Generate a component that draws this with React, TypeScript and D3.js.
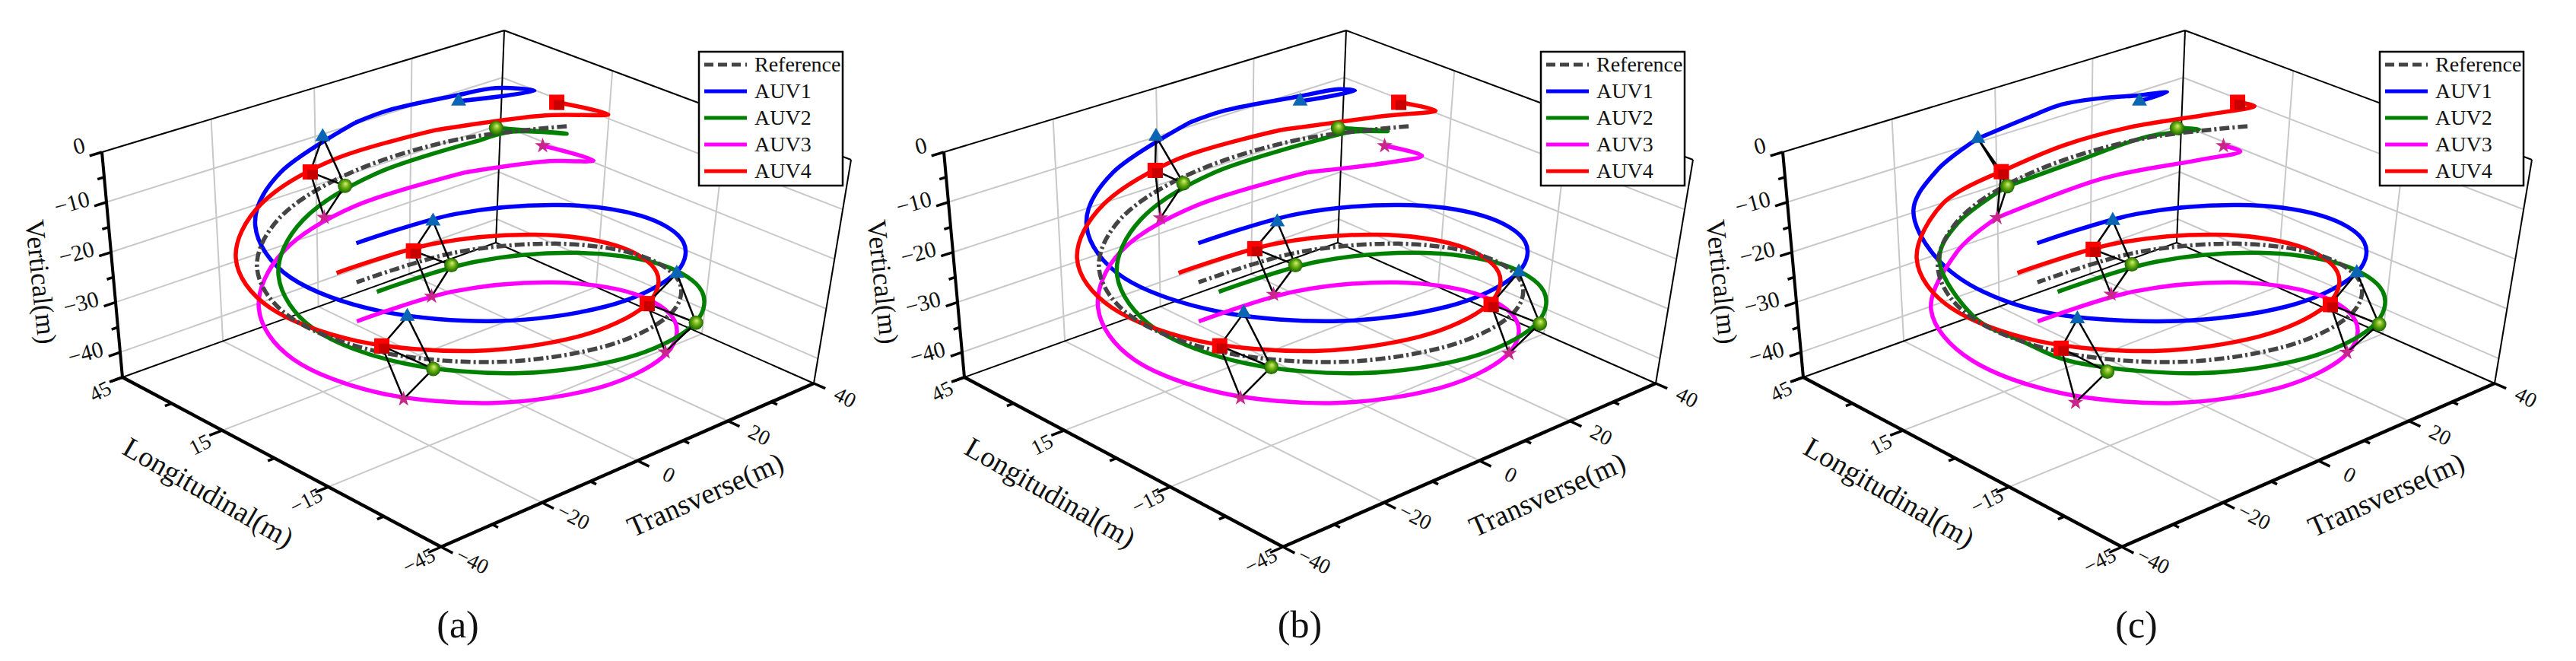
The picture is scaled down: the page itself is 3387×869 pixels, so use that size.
import * as d3 from 'd3';

type P3 = number[];

// values are [longitudinal, transverse, vertical] in metres
const reference: P3[] = [[18.4,33.4,-10.5],[30.2,19,-12.2],[35,1.2,-14.3],[30.9,-16.4,-16.2],[18.5,-29.7,-18.1],[1.2,-35,-20],[-16.4,-30.9,-21.9],[-29.7,-18.5,-23.9],[-35,-1.2,-25.8],[-30.9,16.4,-27.7],[-18.5,29.7,-29.6],[-1.2,35,-31.5],[16.4,30.9,-33.4],[29.7,18.5,-35.3],[35,1.2,-37.2]];

const auv1Tail: P3[] = [[-29.7,-18.5,-15.9],[-35,-1.2,-17.8],[-30.9,16.4,-19.7],[-18.5,29.7,-21.6],[-1.2,35,-23.5],[16.4,30.9,-25.4],[29.7,18.5,-27.3],[35,1.2,-29.2]];
const auv2Tail: P3[] = [[-35.7,-18.5,-23.9],[-41,-1.2,-25.8],[-36.9,16.4,-27.7],[-24.5,29.7,-29.6],[-7.2,35,-31.5],[10.4,30.9,-33.4],[23.7,18.5,-35.3],[29,1.2,-37.2]];
const auv3Tail: P3[] = [[-16.4,-30.9,-29.9],[-29.7,-18.5,-31.9],[-35,-1.2,-33.8],[-30.9,16.4,-35.7],[-18.5,29.7,-37.6],[-1.2,35,-39.5],[16.4,30.9,-41.4],[29.7,18.5,-43.3],[35,1.2,-45.2]];
const auv4Tail: P3[] = [[-10.4,-30.9,-21.9],[-23.7,-18.5,-23.9],[-29,-1.2,-25.8],[-24.9,16.4,-27.7],[-12.5,29.7,-29.6],[4.8,35,-31.5],[22.4,30.9,-33.4],[35.7,18.5,-35.3],[41,1.2,-37.2]];

const auv1A: P3[] = [[26,15.7,-2],[20.6,27.6,-2],[26.5,23.9,-2],[28.5,17.1,-2],[32.9,6.3,-3],[35,1.2,-4.5],[30.9,-16.4,-7.5],[18.5,-29.7,-9.6],[1.2,-35,-12],[-16.4,-30.9,-13.9],...auv1Tail];
const auv2A: P3[] = [[27.6,25.2,-11],[16.5,31.9,-11],[24.2,26,-11],[24.2,19,-10.6],[29,1.2,-13],[24.9,-16.4,-15.2],[12.5,-29.7,-17.5],[-4.8,-35,-20],[-22.4,-30.9,-21.9],...auv2Tail];
const auv3A: P3[] = [[28.4,36.5,-18.5],[16.3,38.3,-18.5],[21.9,32.4,-18.5],[30,20.8,-19.5],[35,1.2,-21.5],[30.9,-16.4,-23.5],[18.5,-29.7,-26],[1.2,-35,-28],...auv3Tail];
const auv4A: P3[] = [[27.1,38.1,-9.5],[15.9,40.6,-9.5],[24.4,33.4,-10],[36.2,19,-12],[41,1.2,-13.8],[36.9,-16.4,-15.8],[24.5,-29.7,-18.1],[7.2,-35,-20],...auv4Tail];

const auv1B: P3[] = [[26,15.6,-2],[23.3,25.1,-2],[25.9,23.7,-2],[28,17,-2],[33.5,5.6,-3],[36,0.4,-4.5],[32,-17.5,-7.5],[19.5,-31,-9.6],[1.8,-36,-12],[-16.4,-31.3,-13.9],...auv1Tail];
const auv2B: P3[] = [[27.6,25.2,-11],[20.1,30.2,-11],[24.2,26,-11],[24.7,19,-10.6],[29.8,0.8,-13],[25.7,-16.6,-15.2],[13,-30,-17.5],[-4.6,-35,-20],[-22.4,-30.9,-21.9],...auv2Tail];
const auv3B: P3[] = [[28.4,36.5,-18.5],[19.8,38.1,-18.5],[22,32.5,-18.8],[30,20.8,-19.5],[35.2,0.8,-21.5],[31.4,-17,-23.5],[18.8,-30,-26],[1.2,-35.2,-28],...auv3Tail];
const auv4B: P3[] = [[27.1,38.1,-9.5],[19.2,40,-9.5],[24.4,33.1,-10],[35.5,19,-11.8],[40.2,1.2,-13.4],[36.4,-16.6,-15.6],[24.4,-29.9,-18.1],[7.2,-35,-20],...auv4Tail];

const auv1C: P3[] = [[26,15.7,-2],[26,21.5,-2],[28.3,17.3,-2],[31.7,12.4,-2],[36.1,7.1,-3],[37.1,1.5,-4],[36.9,-9.1,-5],[35.5,-18,-8],[29,-27,-11],[14,-33,-13],[-2,-35,-13.7],[-17,-31.5,-14.2],...auv1Tail];
const auv2C: P3[] = [[27.6,25.2,-11],[24.4,27.5,-11],[28,19,-11],[30.2,5.9,-12.5],[30.5,-7.9,-13.1],[27.6,-19.5,-15.5],[19,-29,-17.5],[1,-35,-19.5],[-10,-34,-20.7],[-22.4,-31.2,-21.9],...auv2Tail];
const auv3C: P3[] = [[28.4,36.5,-18.5],[24.1,36.9,-18.5],[26.1,29.4,-18.5],[33.2,14,-19.5],[36.4,-6,-22],[31.5,-17.5,-23.5],[19,-31,-26],[1.2,-35.5,-28],...auv3Tail];
const auv4C: P3[] = [[27.1,38.1,-9.5],[23.5,39,-9.5],[26,31,-9.5],[33.8,19.8,-11],[36.4,8,-11.7],[36.5,-4.9,-13],[36.5,-16.4,-15.5],[24.5,-29.7,-18.1],[7.2,-35,-20],...auv4Tail];

// formation snapshots: start, then four instants along the path
const mark1A: P3[] = [[26,15.7,-2],[35.4,-5.1,-5.5],[-20.2,-28.6,-14.5],[-29.7,18.5,-20.3],[31.5,15,-28.2]];
const mark2A: P3[] = [[27.6,25.2,-11],[29.5,-4.9,-13.7],[-26.6,-28.3,-22.5],[-35.7,18.5,-28.1],[26.3,15.3,-35.7]];
const mark3A: P3[] = [[28.4,36.5,-18.5],[35.5,-5,-22],[-20,-29,-30.5],[-29.5,18,-35.9],[31.5,15,-43.7]];
const mark4A: P3[] = [[27.1,38.1,-9.5],[39.5,-4.9,-14],[-13.8,-28.7,-22.5],[-23.2,18.5,-28.5],[37.5,15.3,-36.3]];

const mark1B: P3[] = [[26,15.6,-2],[36.4,-6.1,-5.4],[-18.8,-28.6,-14.3],[-29.7,18.5,-20],[31.1,15.2,-28.3]];
const mark2B: P3[] = [[27.6,25.2,-11],[30.5,-4.9,-13.5],[-25.6,-28.3,-22.5],[-36.2,18.5,-28.1],[25.7,15.3,-35.5]];
const mark3B: P3[] = [[28.4,36.5,-18.5],[36,-5.8,-22],[-19.1,-29.3,-30.5],[-30,18,-36],[31.5,15,-43.3]];
const mark4B: P3[] = [[27.1,38.1,-9.5],[38.6,-4.9,-13.4],[-13.3,-29.1,-22.5],[-23.7,18.5,-28.5],[37.7,15.3,-35.9]];

const mark1C: P3[] = [[26,15.7,-2],[36.9,-9.1,-5],[-20.2,-30.6,-14.2],[-29.7,18.3,-20.1],[31.7,14.9,-28.1]];
const mark2C: P3[] = [[27.6,25.2,-11],[30.5,-7.9,-13.1],[-26.6,-29.6,-22.5],[-36.3,18.5,-28.2],[26.3,15.2,-35.5]];
const mark3C: P3[] = [[28.4,36.5,-18.5],[36.4,-6,-22],[-20,-30.7,-30.5],[-29.7,18,-35.9],[31.9,15,-43.4]];
const mark4C: P3[] = [[27.1,38.1,-9.5],[36.5,-4.9,-13],[-13.7,-28.9,-22.9],[-23.8,18.5,-28.5],[37.7,15.2,-36]];

const lonTicks = [45, 30, 15, 0, -15, -30, -45];
const lonLabels = [45, 15, -15, -45];
const trTicks = [-40, -30, -20, -10, 0, 10, 20, 30, 40];
const trLabels = [-40, -20, 0, 20, 40];
const vertTicks = [0, -5, -10, -15, -20, -25, -30, -35, -40];
const vertLabels = [0, -10, -20, -30, -40];
const legendNames = ['Reference', 'AUV1', 'AUV2', 'AUV3', 'AUV4'];
const legendColors = ['#444444', '#0000ff', '#008000', '#ff00ff', '#ff0000'];

const SERIF = '"Liberation Serif", serif';
const GRID = '#c8c8c8';

const lonScale = d3.scaleLinear().domain([45, -45]).range([0, 1]);
const trScale = d3.scaleLinear().domain([-40, 40]).range([0, 1]);
const vertScale = d3.scaleLinear().domain([-45, 0]).range([0, 1]);

// unit square -> quad, corners in order (0,0) (1,0) (1,1) (0,1)
function quadMap(q: number[][]) {
  const [[x0, y0], [x1, y1], [x2, y2], [x3, y3]] = q;
  const dx1 = x1 - x2, dx2 = x3 - x2, sx = x0 - x1 + x2 - x3;
  const dy1 = y1 - y2, dy2 = y3 - y2, sy = y0 - y1 + y2 - y3;
  const den = dx1 * dy2 - dx2 * dy1;
  const g = (sx * dy2 - dx2 * sy) / den;
  const h = (dx1 * sy - sx * dy1) / den;
  const a = x1 - x0 + g * x1, b = x3 - x0 + h * x3;
  const d = y1 - y0 + g * y1, e = y3 - y0 + h * y3;
  return (u: number, v: number) => {
    const w = g * u + h * v + 1;
    return [(a * u + b * v + x0) / w, (d * u + e * v + y0) / w];
  };
}

const floorMap = quadMap([[161, 496], [580, 719], [1070, 504], [652, 319]]);
const topMap = quadMap([[134, 200], [588, 411], [1119, 210], [663, 40]]);

function project(lon: number, tr: number, vert: number): [number, number] {
  const u = lonScale(lon), v = trScale(tr), w = vertScale(vert);
  const f = floorMap(u, v), t = topMap(u, v);
  return [f[0] + (t[0] - f[0]) * w, f[1] + (t[1] - f[1]) * w];
}

// sharp start hooks need the centripetal curve, the even spiral looks rounder with the plain one
const hookLine = d3.line().curve(d3.curveCatmullRom.alpha(0.5));
const spiralLine = d3.line().curve(d3.curveCatmullRom.alpha(0));
const straight = d3.line();
const triangle = d3.symbol(d3.symbolTriangle, 170)();
const star = d3.symbol(d3.symbolStar, 130)();

function Seg({ a, b, stroke = '#000', width = 2 }: { a: P3; b: P3; stroke?: string; width?: number }) {
  return <path d={straight([project(a[0], a[1], a[2]), project(b[0], b[1], b[2])]) as string} stroke={stroke} strokeWidth={width} fill="none" />;
}

function Frame() {
  return (
    <g>
      <g>
        {[15, -15].map(l => <Seg key={`f${l}`} a={[l, -40, -45]} b={[l, 40, -45]} stroke={GRID} />)}
        {[-20, 0, 20].map(t => <Seg key={`g${t}`} a={[45, t, -45]} b={[-45, t, -45]} stroke={GRID} />)}
        {[-20, 0, 20].map(t => <Seg key={`v${t}`} a={[45, t, -45]} b={[45, t, 0]} stroke={GRID} />)}
        {[15, -15].map(l => <Seg key={`w${l}`} a={[l, 40, -45]} b={[l, 40, 0]} stroke={GRID} />)}
        {[-10, -20, -30, -40].map(z => <Seg key={`h${z}`} a={[45, -40, z]} b={[45, 40, z]} stroke={GRID} />)}
        {[-10, -20, -30, -40].map(z => <Seg key={`k${z}`} a={[45, 40, z]} b={[-45, 40, z]} stroke={GRID} />)}
      </g>
      <Seg a={[45, -40, -45]} b={[45, 40, -45]} />
      <Seg a={[45, 40, -45]} b={[-45, 40, -45]} />
      <Seg a={[45, 40, -45]} b={[45, 40, 0]} />
      <Seg a={[45, -40, 0]} b={[45, 40, 0]} />
      <Seg a={[45, 40, 0]} b={[-45, 40, 0]} />
      <Seg a={[-45, 40, -45]} b={[-45, 40, 0]} />
      <Seg a={[45, -40, -45]} b={[45, -40, 0]} width={4} />
      <Seg a={[45, -40, -45]} b={[-45, -40, -45]} width={4.5} />
      <Seg a={[-45, -40, -45]} b={[-45, 40, -45]} width={4.5} />
      {vertTicks.map(z => <Seg key={z} a={[45, -40, z]} b={[45, z % 10 === 0 ? -42.2 : -41.2, z]} width={3.5} />)}
      <Seg a={[45, -40, -45]} b={[45, -42.2, -45]} width={3.5} />
      {lonTicks.map(l => <Seg key={l} a={[l, -40, -45]} b={[l, l % 15 === 0 && l % 30 !== 0 ? -42.5 : -41.3, -45]} width={3.5} />)}
      {trTicks.map(t => <Seg key={t} a={[-45, t, -45]} b={[t % 20 === 0 ? -48 : -46.5, t, -45]} width={3.5} />)}
      {vertLabels.map(z => {
        const [x, y] = project(45, -40, z);
        return (
          <text key={z} transform={`translate(${x - 22},${y - (z === 0 ? 7 : 2)}) rotate(-15)`} textAnchor="end" dominantBaseline="middle" fontFamily={SERIF} fontSize={30} fill="#111">
            {z < 0 ? `\u2212${-z}` : z}
          </text>
        );
      })}
      {lonLabels.map(l => {
        const [x, y] = project(l, -40, -45);
        return (
          <text key={l} transform={`translate(${x - 28},${y + 21}) rotate(-27)`} textAnchor="middle" dominantBaseline="middle" fontFamily={SERIF} fontSize={28} fill="#111">
            {l < 0 ? `\u2212${-l}` : l}
          </text>
        );
      })}
      {trLabels.map(t => {
        const [x, y] = project(-45, t, -45);
        return (
          <text key={t} transform={`translate(${x + 40},${y + 21}) rotate(27)`} textAnchor="middle" dominantBaseline="middle" fontFamily={SERIF} fontSize={28} fill="#111">
            {t < 0 ? `\u2212${-t}` : t}
          </text>
        );
      })}
      <text transform="translate(50,371) rotate(84)" textAnchor="middle" dominantBaseline="middle" fontFamily={SERIF} fontSize={36} fill="#111">Vertical(m)</text>
      <text transform="translate(272,651) rotate(30)" textAnchor="middle" dominantBaseline="middle" fontFamily={SERIF} fontSize={38} fill="#111">Longitudinal(m)</text>
      <text transform="translate(929,654) rotate(-24)" textAnchor="middle" dominantBaseline="middle" fontFamily={SERIF} fontSize={38} fill="#111">Transverse(m)</text>
    </g>
  );
}

function Legend() {
  const rowY = d3.scalePoint<string>().domain(legendNames).range([85, 225]);
  return (
    <g>
      <rect x={919} y={68} width={189} height={176} fill="#fff" stroke="#000" strokeWidth={2.5} />
      {legendNames.map((n, i) => (
        <g key={n}>
          <line x1={926} x2={982} y1={rowY(n)} y2={rowY(n)} stroke={legendColors[i]} strokeWidth={5} strokeDasharray={i === 0 ? '12 6' : undefined} />
          <text x={992} y={(rowY(n) as number) + 9} fontFamily={SERIF} fontSize={28} fill="#111">{n}</text>
        </g>
      ))}
    </g>
  );
}

interface PanelProps {
  dx: number;
  curves: P3[][];
  hookEnds: number[];
  marks: P3[][];
  caption: string;
  captionX: number;
}

function Panel({ dx, curves, hookEnds, marks, caption, captionX }: PanelProps) {
  const screen = (rows: P3[]) => rows.map(r => project(r[0], r[1], r[2]));
  const [m1, m2, m3, m4] = marks.map(screen);
  const pathOf = (i: number) => {
    if (i === 0) return spiralLine(screen(reference)) as string;
    const pts = screen(curves[i - 1]);
    const h = hookEnds[i - 1];
    return `${hookLine(pts.slice(0, h + 1))}${spiralLine(pts.slice(h))}`;
  };
  return (
    <g transform={`translate(${dx},0)`}>
      <Frame />
      {[1, 3, 2, 4, 0].map(i => (
        <path
          key={i}
          d={pathOf(i)}
          fill="none"
          stroke={legendColors[i]}
          strokeWidth={5.5}
          strokeLinejoin="round"
          strokeDasharray={i === 0 ? '13 4 3 4' : undefined}
        />
      ))}
      {[1, 2, 3, 4].map(k => (
        <path
          key={k}
          d={[[m1, m4], [m1, m2], [m4, m2], [m4, m3], [m2, m3]].map(p => straight([p[0][k], p[1][k]])).join('')}
          fill="none"
          stroke="#000"
          strokeWidth={2.5}
        />
      ))}
      {m1.map((p, k) => <path key={k} d={triangle as string} transform={`translate(${p[0]},${p[1]})`} fill="#0a66b4" />)}
      {m3.map((p, k) => <path key={k} d={star as string} transform={`translate(${p[0]},${p[1]})`} fill="#c8268c" />)}
      {m2.map((p, k) => <circle key={k} cx={p[0]} cy={p[1]} r={9.5} fill="url(#ball)" />)}
      {m4.map((p, k) => (
        <g key={k} transform={`translate(${p[0]},${p[1]})`}>
          <rect x={-10} y={-10} width={20} height={20} fill="#ff0000" />
          <rect x={-4} y={-3} width={14} height={13} fill="#c80000" />
        </g>
      ))}
      <Legend />
      <text x={captionX} y={838} textAnchor="middle" fontFamily={SERIF} fontSize={50} fill="#111">{caption}</text>
    </g>
  );
}

export default function App() {
  return (
    <svg width={3387} height={869} style={{ position: 'absolute', left: 0, top: 0, background: '#fff' }}>
      <defs>
        <radialGradient id="ball" cx="0.5" cy="0.5" r="0.55" fx="0.55" fy="0.35">
          <stop offset="0" stopColor="#d4f07a" />
          <stop offset="0.45" stopColor="#6aae10" />
          <stop offset="1" stopColor="#0c5c00" />
        </radialGradient>
      </defs>
      <Panel dx={0} curves={[auv1A, auv2A, auv3A, auv4A]} hookEnds={[5, 3, 3, 3]} marks={[mark1A, mark2A, mark3A, mark4A]} caption="(a)" captionX={602} />
      <Panel dx={1107} curves={[auv1B, auv2B, auv3B, auv4B]} hookEnds={[5, 3, 3, 3]} marks={[mark1B, mark2B, mark3B, mark4B]} caption="(b)" captionX={602} />
      <Panel dx={2210} curves={[auv1C, auv2C, auv3C, auv4C]} hookEnds={[6, 4, 4, 5]} marks={[mark1C, mark2C, mark3C, mark4C]} caption="(c)" captionX={599} />
    </svg>
  );
}
